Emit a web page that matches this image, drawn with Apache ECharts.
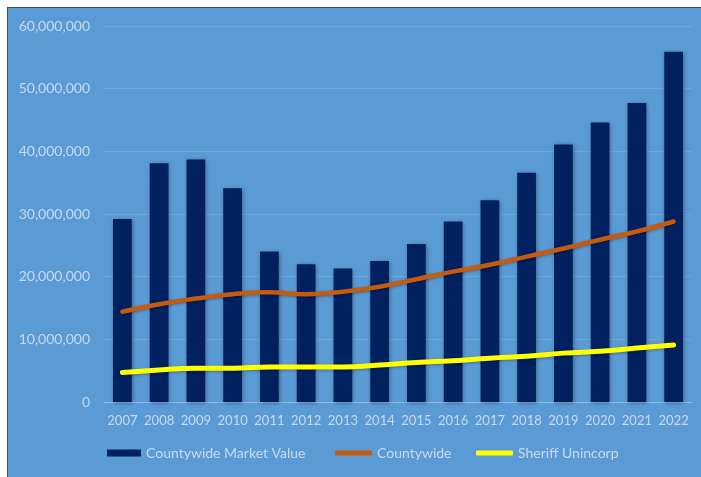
<!DOCTYPE html>
<html>
<head>
<meta charset="utf-8">
<script src="https://cdn.jsdelivr.net/npm/echarts@6/dist/echarts.min.js"></script>
<style>
  html, body { margin: 0; padding: 0; background: #ffffff; overflow: hidden; }
  #frame {
    position: absolute; left: 7px; top: 7px; width: 693px; height: 469px;
    border-top: 1px solid #3d4c5c; border-left: 1px solid #3d4c5c;
    background: #5b9bd5;
  }
  #chart { width: 693px; height: 469px; }
</style>
</head>
<body>
<div id="frame"><div id="chart"></div></div>
<script>
// Years on the category axis
const years = ['2007','2008','2009','2010','2011','2012','2013','2014',
               '2015','2016','2017','2018','2019','2020','2021','2022'];
// Countywide market value (bars)
const marketValue = [29200000, 38100000, 38700000, 34100000, 24000000, 22000000, 21300000, 22500000,
                     25200000, 28800000, 32200000, 36600000, 41100000, 44600000, 47700000, 55900000];
// Countywide (orange line)
const countywide = [14400000, 15600000, 16500000, 17200000, 17500000, 17200000, 17600000, 18400000,
                    19600000, 20800000, 21900000, 23200000, 24500000, 25900000, 27200000, 28800000];
// Sheriff Unincorp (yellow line)
const sheriff = [4700000, 5100000, 5400000, 5400000, 5600000, 5600000, 5600000, 5900000,
                 6300000, 6600000, 7000000, 7300000, 7800000, 8100000, 8600000, 9100000];
// Series names shown in the legend
const seriesNames = ['Countywide Market Value', 'Countywide', 'Sheriff Unincorp'];

const textColor = '#c9d9ec';
const font = 'Lato, "Open Sans", sans-serif';

const chart = echarts.init(document.getElementById('chart'), null, { renderer: 'canvas' });

// One legend block per series so each entry sits at its own spot
function legendAt(name, left, icon, w, h) {
  return {
    data: [{ name: name, icon: icon }],
    left: left, top: 438, padding: 0,
    itemWidth: w, itemHeight: h,
    textStyle: { color: textColor, fontSize: 14, fontFamily: font },
    selectedMode: false
  };
}

chart.setOption({
  animation: false,
  backgroundColor: '#5b9bd5',
  grid: { left: 96, right: 9, top: 18, bottom: 75 },
  legend: [
    legendAt(seriesNames[0], 99, 'rect', 34, 7),
    legendAt(seriesNames[1], 327, 'roundRect', 37, 5),
    legendAt(seriesNames[2], 468, 'roundRect', 37, 5)
  ],
  xAxis: {
    type: 'category',
    data: years,
    axisTick: { show: false },
    axisLine: { lineStyle: { color: '#8dbbe6', width: 1 } },
    axisLabel: { color: textColor, fontSize: 13, fontFamily: font, margin: 12, interval: 0 }
  },
  yAxis: {
    type: 'value',
    min: 0, max: 60000000, interval: 10000000,
    axisLine: { show: false },
    axisTick: { show: false },
    splitLine: { lineStyle: { color: '#6aa7dd', width: 1 } },
    axisLabel: {
      color: textColor, fontSize: 14, fontFamily: font, margin: 14,
      formatter: v => v.toLocaleString('en-US')
    }
  },
  series: [
    {
      name: seriesNames[0], type: 'bar', data: marketValue,
      barWidth: '51%',
      itemStyle: {
        color: '#002060',
        shadowColor: 'rgba(0,0,0,0.35)', shadowBlur: 4, shadowOffsetX: 1, shadowOffsetY: 1
      }
    },
    {
      name: seriesNames[1], type: 'line', data: countywide,
      smooth: true, symbol: 'none',
      lineStyle: { color: '#c55a11', width: 4.5, cap: 'round',
                   shadowColor: 'rgba(0,0,0,0.3)', shadowBlur: 3, shadowOffsetY: 1 },
      itemStyle: { color: '#c55a11' }
    },
    {
      name: seriesNames[2], type: 'line', data: sheriff,
      smooth: true, symbol: 'none',
      lineStyle: { color: '#ffff00', width: 5, cap: 'round',
                   shadowColor: 'rgba(0,0,0,0.3)', shadowBlur: 3, shadowOffsetY: 1 },
      itemStyle: { color: '#ffff00' }
    }
  ]
});
</script>
</body>
</html>
